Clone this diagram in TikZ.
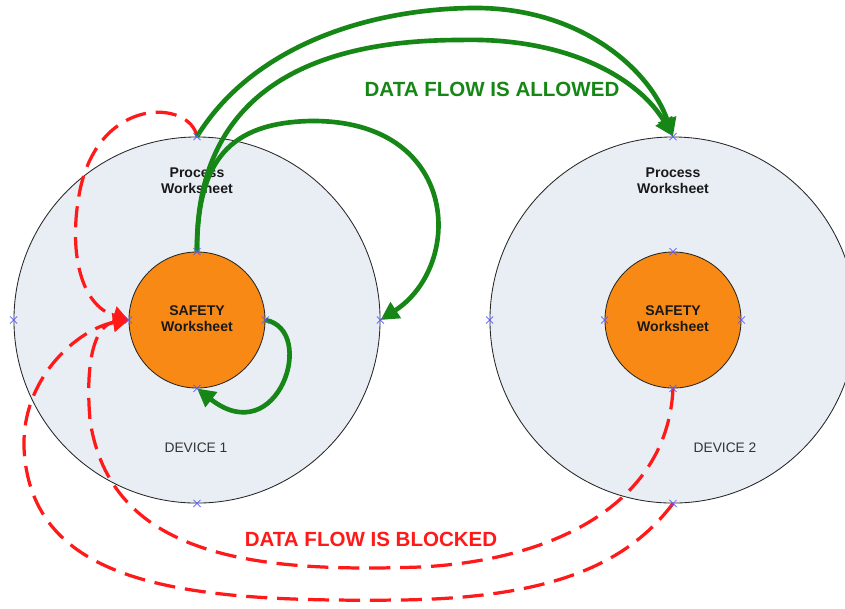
\documentclass[tikz,border=0pt]{standalone}
\usepackage{fontspec}
\setmainfont{Liberation Sans}
\usetikzlibrary{arrows.meta,shapes.misc}
\definecolor{gflow}{RGB}{22,135,22}
\definecolor{rflow}{RGB}{255,25,25}
\definecolor{outerfill}{RGB}{233,238,245}
\definecolor{innerfill}{RGB}{247,137,20}
\definecolor{mk}{RGB}{90,90,255}
\begin{document}
\begin{tikzpicture}[x=0.025cm,y=-0.025cm,
 outerc/.style={circle,draw=black!85,line width=0.6pt,fill=outerfill,minimum size=9.15cm,inner sep=0},
 innerc/.style={circle,draw=black!85,line width=0.6pt,fill=innerfill,minimum size=3.4cm,inner sep=0},
 lbl/.style={font=\fontsize{10}{11.5}\selectfont\bfseries,align=center,text=black!90},
 devlbl/.style={font=\fontsize{9.8}{12}\selectfont,text=black!80},
 xmark/.style={cross out,draw=mk,line width=0.5pt,minimum size=4.5pt,inner sep=0},
 gconn/.style={draw=gflow,line width=3.3pt,-{Triangle[length=13pt,width=13pt]}},
 rconn/.style={draw=rflow,line width=2.3pt,dash pattern=on 15pt off 7pt,-{Triangle[length=11pt,width=13pt]}},
 flowlbl/.style={font=\fontsize{14.6}{17}\selectfont\bfseries},
]
\useasboundingbox (0,0) rectangle (845,608);
\fill[white] (0,0) rectangle (845,608);

% devices
\node[outerc] (d1o) at (197,320) {};
\node[innerc] (d1i) at (197,320) {};
\node[outerc] (d2o) at (673,320) {};
\node[innerc] (d2i) at (673,320) {};

% labels
\node[lbl] (p1) at (197,181) {Process\\Worksheet};
\node[lbl] (s1) at (197,319) {SAFETY\\Worksheet};
\node[devlbl] (dev1) at (196,448) {DEVICE 1};
\node[lbl] (p2) at (673,181) {Process\\Worksheet};
\node[lbl] (s2) at (673,319) {SAFETY\\Worksheet};
\node[devlbl] (dev2) at (725,448) {DEVICE 2};

\node[flowlbl,text=gflow] (allowed) at (492,89) {DATA FLOW IS ALLOWED};
\node[flowlbl,text=rflow] (blocked) at (371,539) {DATA FLOW IS BLOCKED};

% red blocked flows
\draw[rconn] (d1o.north) .. controls (190,100) and (100,95) .. (80,190)
  .. controls (68,250) and (80,305) .. (d1i.west);
\draw[rconn] (d2i.south) .. controls (668,500) and (560,560) .. (420,567)
  .. controls (250,573) and (110,555) .. (90,420)
  .. controls (85,360) and (95,325) .. (d1i.west);
\draw[rconn] (d2o.south) .. controls (630,560) and (560,598) .. (400,600)
  .. controls (200,602) and (40,590) .. (25,460)
  .. controls (15,380) and (80,328) .. (d1i.west);

% green allowed flows
\draw[gconn] (d1o.north) .. controls (250,50) and (360,10) .. (470,8)
  .. controls (580,6) and (650,70) .. (d2o.north);
\draw[gconn] (d1i.north) .. controls (195,100) and (300,40) .. (460,40)
  .. controls (570,37) and (640,80) .. (d2o.north);
\draw[gconn] (d1i.north) .. controls (197,160) and (230,123) .. (310,121)
  .. controls (460,119) and (465,265) .. (d1o.east);
\draw[gconn] (d1i.east) .. controls (318,330) and (278,452) .. (d1i.south);

% markers
\foreach \n in {d1o,d1i,d2o,d2i}{
  \foreach \a in {north,south,east,west}{
    \node[xmark] at (\n.\a) {};
  }
}
\end{tikzpicture}
\end{document}
